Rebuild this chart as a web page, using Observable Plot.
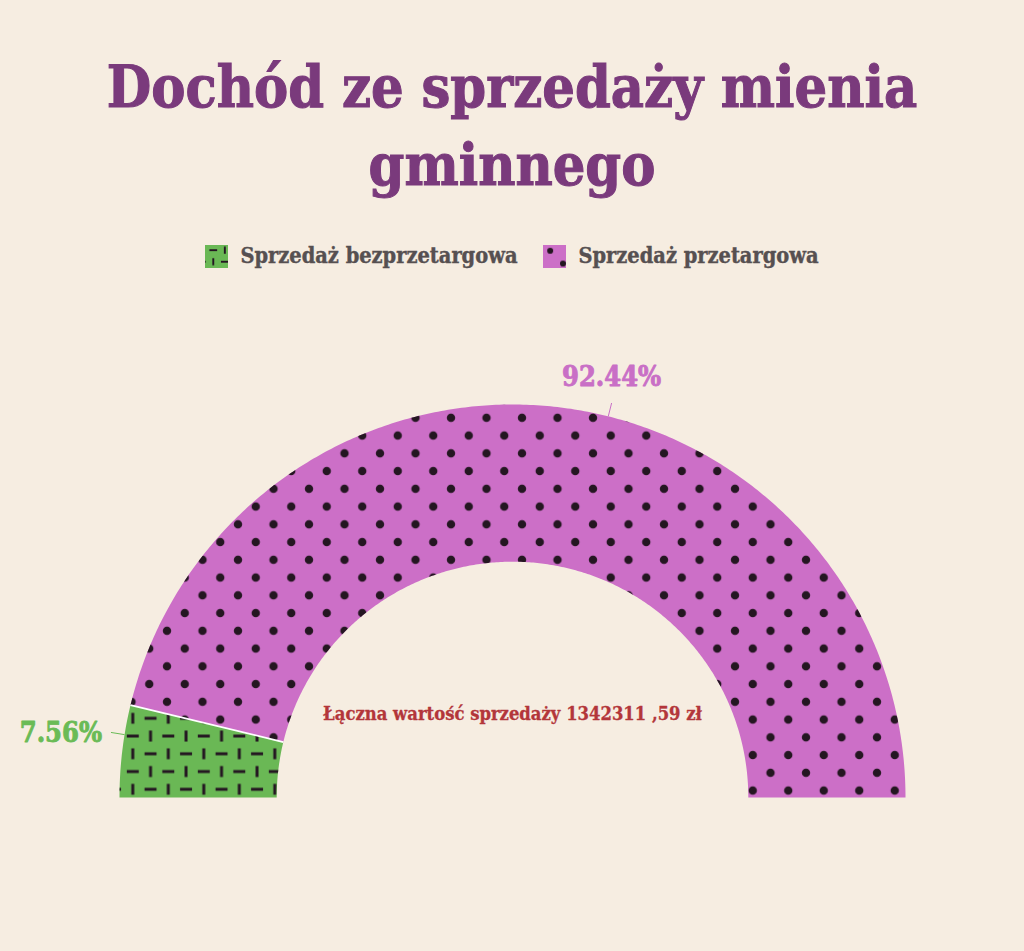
<!DOCTYPE html>
<html>
<head>
<meta charset="utf-8">
<script src="https://cdn.jsdelivr.net/npm/d3@7"></script>
<script src="https://cdn.jsdelivr.net/npm/@observablehq/plot@0.6"></script>
<style>
  html, body { margin: 0; padding: 0; background: #f6ede1; }
  body { width: 1024px; height: 951px; overflow: hidden; position: relative;
         font-family: "DejaVu Serif Condensed", "DejaVu Serif", serif; }
  #title { position: absolute; left: 0; top: 48px; width: 1024px; margin: 0;
           text-align: center; color: #7a3a7c; font-weight: bold;
           font-size: 57px; line-height: 78px; -webkit-text-stroke: 1px #7a3a7c; }
  #legend { position: absolute; left: 0; top: 244px; width: 1024px;
            display: flex; justify-content: center; align-items: center;
            font-weight: bold; font-size: 21.6px; line-height: 24px; color: #565051;
            -webkit-text-stroke: 0.4px #565051; }
  .item { display: flex; align-items: center; margin: 0 13px; }
  .item svg { margin-right: 12px; display: block; }
  #chart { position: absolute; left: 0; top: 290px; }
</style>
</head>
<body>
<h1 id="title">Dochód ze sprzedaży mienia<br>gminnego</h1>
<div id="legend"></div>
<div id="chart"></div>
<script>
// ---- data ----
const categories = ["Sprzedaż bezprzetargowa", "Sprzedaż przetargowa"];
const shares = [7.56, 92.44];           // percent
const shareLabels = ["7.56%", "92.44%"];
const totalLabel = "Łączna wartość sprzedaży 1342311 ,59 zł";

// ---- style ----
const fills = ["#6ab855", "#cc6fc7"];
const labelColors = ["#6abb56", "#c96fc6"];
const patternIds = ["dash", "dots"];
const innerRatio = 0.6;
const labelNudgeDeg = [2.4, 7.3]; // label anchor shift along the arc (deg)

// ---- geometry from data ----
const total = d3.sum(shares);
let cum = 0;
const slices = shares.map((v, i) => {
  const f0 = cum / total; cum += v; const f1 = cum / total;
  return {i, cat: categories[i], f0, f1};
});
const ang = f => Math.PI - f * Math.PI; // fraction from left -> radians
function arcPolygon(s) {
  const pts = [];
  const n = Math.max(4, Math.ceil((s.f1 - s.f0) * 360));
  for (let k = 0; k <= n; k++) {
    const a = ang(s.f0 + (s.f1 - s.f0) * k / n);
    pts.push({x: Math.cos(a), y: Math.sin(a)});
  }
  for (let k = n; k >= 0; k--) {
    const a = ang(s.f0 + (s.f1 - s.f0) * k / n);
    pts.push({x: innerRatio * Math.cos(a), y: innerRatio * Math.sin(a)});
  }
  return pts;
}
const boundaries = slices.slice(1).map(s => ({a: ang(s.f0)}));
const labels = slices.map(s => {
  const a = ang((s.f0 + s.f1) / 2) - labelNudgeDeg[s.i] * Math.PI / 180;
  return {i: s.i, a, text: shareLabels[s.i]};
});

const marks = [];
slices.forEach(s => {
  marks.push(Plot.line(arcPolygon(s), {x: "x", y: "y", fill: fills[s.i], stroke: "none"}));
  marks.push(Plot.line(arcPolygon(s), {x: "x", y: "y", fill: `url(#${patternIds[s.i]})`, stroke: "none"}));
});
marks.push(Plot.link(boundaries, {
  x1: d => innerRatio * Math.cos(d.a), y1: d => innerRatio * Math.sin(d.a),
  x2: d => Math.cos(d.a), y2: d => Math.sin(d.a), stroke: "#ffffff", strokeWidth: 1.8
}));
marks.push(Plot.link(labels, {
  x1: d => Math.cos(d.a), y1: d => Math.sin(d.a),
  x2: d => 1.035 * Math.cos(d.a), y2: d => 1.035 * Math.sin(d.a),
  stroke: d => labelColors[d.i], strokeWidth: 1
}));
const textStyle = {fontFamily: "DejaVu Serif Condensed, DejaVu Serif, serif", fontWeight: "bold"};
marks.push(Plot.text(labels.filter(d => Math.cos(d.a) < 0), {
  x: d => 1.035 * Math.cos(d.a), y: d => 1.035 * Math.sin(d.a), text: "text",
  fill: d => labelColors[d.i], stroke: d => labelColors[d.i], strokeWidth: 0.8,
  textAnchor: "end", lineAnchor: "middle", dx: -9, dy: 1,
  fontSize: 27, ...textStyle
}));
marks.push(Plot.text(labels.filter(d => Math.cos(d.a) >= 0), {
  x: d => 1.035 * Math.cos(d.a), y: d => 1.035 * Math.sin(d.a), text: "text",
  fill: d => labelColors[d.i], stroke: d => labelColors[d.i], strokeWidth: 0.8,
  textAnchor: "middle", lineAnchor: "bottom", dy: -17,
  fontSize: 27, ...textStyle
}));
marks.push(Plot.text([totalLabel], {
  x: () => 0, y: () => 0, text: d => d, dy: -83, lineAnchor: "middle",
  fill: "#b3363a", stroke: "#b3363a", strokeWidth: 0.3, fontSize: 18.3, ...textStyle
}));

const svg = Plot.plot({
  width: 1024, height: 661,
  marginLeft: 119, marginRight: 119, marginTop: 114, marginBottom: 154,
  x: {domain: [-1, 1], axis: null},
  y: {domain: [0, 1], axis: null},
  style: {background: "transparent", overflow: "visible"},
  marks
});

const T = 35.5, h = T / 2, ink = "#241621";
const defs = `
<pattern id="dots" patternUnits="userSpaceOnUse" x="24.5" y="20.8" width="${T}" height="${T}">
  <circle cx="0" cy="0" r="4.2" fill="${ink}"/><circle cx="${T}" cy="0" r="4.2" fill="${ink}"/>
  <circle cx="0" cy="${T}" r="4.2" fill="${ink}"/><circle cx="${T}" cy="${T}" r="4.2" fill="${ink}"/>
  <circle cx="${h}" cy="${h}" r="4.2" fill="${ink}"/>
</pattern>
<pattern id="dash" patternUnits="userSpaceOnUse" x="25.8" y="1.8" width="${T}" height="${T}">
  <g stroke="${ink}" stroke-width="3">
    <line x1="0" y1="-5.5" x2="0" y2="5.5"/><line x1="${T}" y1="-5.5" x2="${T}" y2="5.5"/>
    <line x1="0" y1="${T-5.5}" x2="0" y2="${T+5.5}"/><line x1="${T}" y1="${T-5.5}" x2="${T}" y2="${T+5.5}"/>
    <line x1="${h}" y1="${h-5.5}" x2="${h}" y2="${h+5.5}"/>
    <line x1="${h-6}" y1="0" x2="${h+6}" y2="0"/><line x1="${h-6}" y1="${T}" x2="${h+6}" y2="${T}"/>
    <line x1="-6" y1="${h}" x2="6" y2="${h}"/><line x1="${T-6}" y1="${h}" x2="${T+6}" y2="${h}"/>
  </g>
</pattern>
<pattern id="dotsS" href="#dots" patternTransform="scale(0.72)" x="10" y="8"/>
<pattern id="dashS" href="#dash" patternTransform="scale(0.65)" x="-5" y="8"/>`;
d3.select(svg).insert("defs", ":first-child").html(defs);
document.getElementById("chart").appendChild(svg);

// legend
const legend = d3.select("#legend");
categories.forEach((c, i) => {
  const it = legend.append("div").attr("class", "item");
  const sw = it.append("svg").attr("width", 23).attr("height", 23);
  sw.append("rect").attr("width", 23).attr("height", 23).attr("fill", fills[i]);
  sw.append("rect").attr("width", 23).attr("height", 23).attr("fill", `url(#${patternIds[i]}S)`);
  it.append("span").text(c);
});
</script>
</body>
</html>
